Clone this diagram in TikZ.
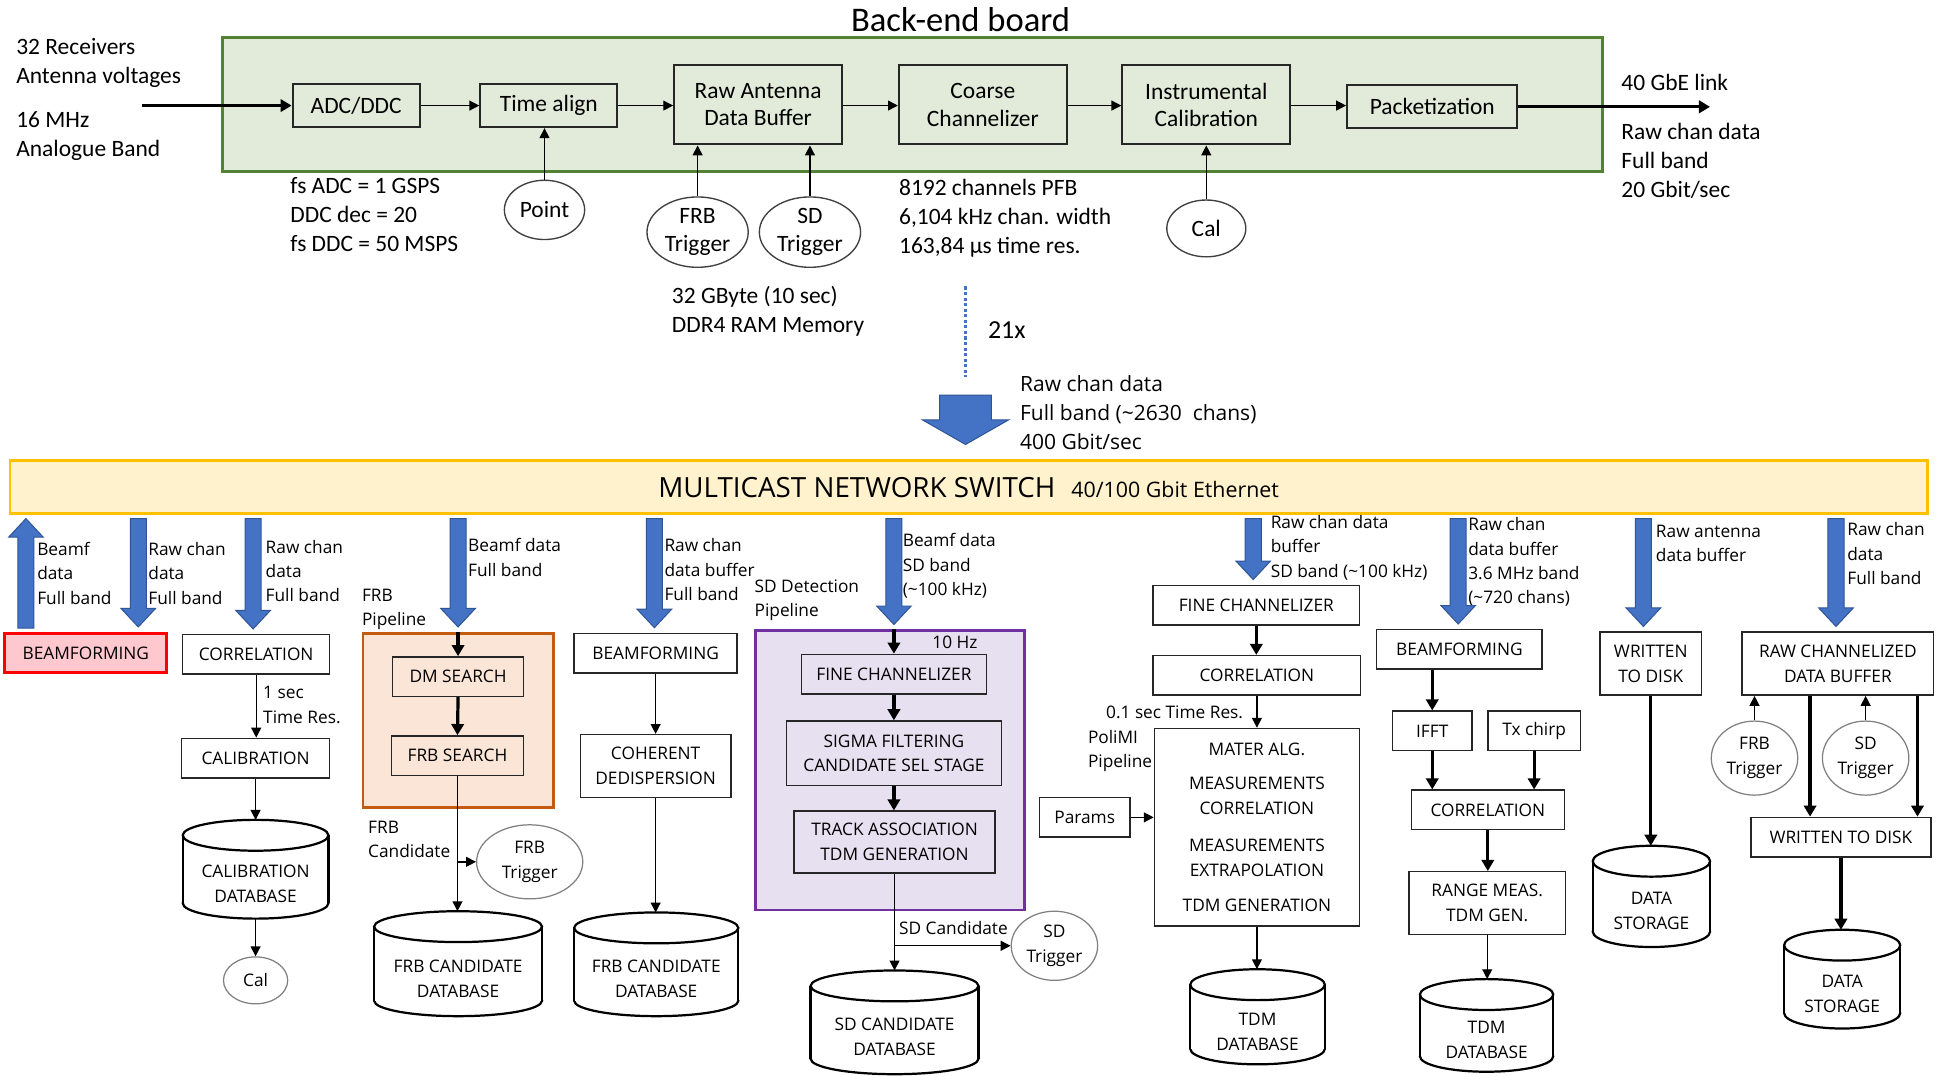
\documentclass[tikz,border=0pt]{standalone}
\usepackage{fontspec}
\setmainfont{Carlito}
\newfontfamily\osans{Open Sans}
\usetikzlibrary{arrows.meta,shapes.geometric,calc}

\definecolor{bgreen}{HTML}{E2EBDA}
\definecolor{bgreenline}{HTML}{548235}
\definecolor{swfill}{HTML}{FFF2CC}
\definecolor{swline}{HTML}{FFC000}
\definecolor{bluefill}{HTML}{4472C4}
\definecolor{blueline}{HTML}{2F5597}
\definecolor{redfill}{HTML}{FFC7CE}
\definecolor{redline}{HTML}{FF0000}
\definecolor{orfill}{HTML}{FBE5D6}
\definecolor{orline}{HTML}{C55A11}
\definecolor{pufill}{HTML}{E7E0F1}
\definecolor{puline}{HTML}{7030A0}

\newcommand\fsz[2]{\fontsize{#1}{#2}\selectfont}

% database cylinder: name, centre x, top y, bottom y, half width, text
\newcommand\dbase[6]{%
  \node[minimum width={2*#5}, minimum height={#4-#3}, inner sep=0pt, outer sep=0pt] (#1) at (#2,{(#3+#4)/2}) {};
  \draw[dbline, fill=white] ([yshift=12.5pt]#1.south) ellipse [x radius=#5pt, y radius=12.5pt];
  \fill[white] ([xshift=-#5pt,yshift=12.5pt]#1.south) rectangle ([xshift=#5pt,yshift=-12.5pt]#1.north);
  \draw[dbline] ([xshift=-#5pt,yshift=12.5pt]#1.south) -- ([xshift=-#5pt,yshift=-12.5pt]#1.north);
  \draw[dbline] ([xshift=#5pt,yshift=12.5pt]#1.south) -- ([xshift=#5pt,yshift=-12.5pt]#1.north);
  \draw[dbline, fill=white] ([yshift=-12.5pt]#1.north) ellipse [x radius=#5pt, y radius=12.5pt];
  \node[dbtext] at ([yshift=-12pt]#1.center) {#6};
}

% block arrows between the switch and a target point
\newcommand\blkdown[1]{\draw[blockarrow] let \p1=(#1), \p2=(sw.south) in
  (\x1-6.5pt,\y2-3pt) -- (\x1+6.5pt,\y2-3pt) -- (\x1+6.5pt,\y1+19pt) -- (\x1+14pt,\y1+19pt)
  -- (\x1,\y1+4pt) -- (\x1-14pt,\y1+19pt) -- (\x1-6.5pt,\y1+19pt) -- cycle;}
\newcommand\blkup[1]{\draw[blockarrow] let \p1=(#1), \p2=(sw.south) in
  (\x1-6.5pt,\y1+3pt) -- (\x1+6.5pt,\y1+3pt) -- (\x1+6.5pt,\y2-18pt) -- (\x1+14pt,\y2-18pt)
  -- (\x1,\y2-3pt) -- (\x1-14pt,\y2-18pt) -- (\x1-6.5pt,\y2-18pt) -- cycle;}

\begin{document}
\begin{tikzpicture}[x=1pt,y=-1pt,
  topbox/.style={draw=black!85, line width=1.6pt, fill=bgreen, font=\fsz{19}{22}, align=center, inner sep=0pt},
  box/.style={draw=black!85, line width=1.2pt, fill=white, font=\osans\fsz{14}{20}, align=center, inner sep=0pt},
  bell/.style={ellipse, draw=black!50, line width=1pt, fill=white, font=\osans\fsz{14}{20}, align=center, inner sep=0pt},
  tell/.style={ellipse, draw=black!75, line width=1.1pt, fill=white, font=\fsz{19}{23}, align=center, inner sep=0pt},
  lbl/.style={font=\fsz{19}{23.5}, align=left, anchor=base west, inner sep=0pt},
  slbl/.style={font=\osans\fsz{14}{19.7}, align=left, anchor=base west, inner sep=0pt},
  dbtext/.style={font=\osans\fsz{14}{20}, align=center, inner sep=0pt},
  tarr/.style={line width=1.1pt, -{Triangle[length=8pt,width=8pt]}},
  barr/.style={line width=2.6pt, -{Triangle[length=9pt,width=10pt]}},
  dbline/.style={line width=1.8pt, draw=black},
  blockarrow/.style={fill=bluefill, draw=blueline, line width=0.8pt},
]
\useasboundingbox (0,0) rectangle (1568,871);
\fill[white] (0,0) rectangle (1568,871);

% multi-line labels are placed by the baseline of their last line

% ---------------- back-end board ----------------
\node[font=\fsz{28}{32}, inner sep=0pt] (title) at (778,16) {Back-end board};
\node[draw=bgreenline, line width=2.5pt, fill=bgreen, minimum width=1118pt, minimum height=109pt, inner sep=0pt] (board) at (739,84.5) {};
\node[lbl] (rcv) at (13,67.5) {32 Receivers\\Antenna voltages};
\node[lbl] (anb) at (13,126.5) {16 MHz\\Analogue Band};
\node[topbox, minimum width=103pt, minimum height=35pt] (adc) at (288.5,85.5) {ADC/DDC};
\node[topbox, minimum width=111pt, minimum height=35pt] (ta) at (444.5,85.5) {Time align};
\node[topbox, minimum width=136pt, minimum height=64pt] (rab) at (614,85) {Raw Antenna\\Data Buffer};
\node[topbox, minimum width=136pt, minimum height=64pt] (cch) at (796,85) {Coarse\\Channelizer};
\node[topbox, minimum width=136pt, minimum height=64pt] (ical) at (977,85) {Instrumental\\Calibration};
\node[topbox, minimum width=138pt, minimum height=35pt] (pack) at (1160,86.5) {Packetization};
\coordinate (in) at (115,85.5);
\coordinate (out) at (1385,86.5);
\node[lbl] (link) at (1313,73) {40 GbE link};
\node[lbl] (rcd) at (1313,160) {Raw chan data\\Full band\\20 Gbit/sec};
\node[lbl] (adcp) at (235,204) {fs ADC = 1 GSPS\\DDC dec = 20\\fs DDC = 50 MSPS};
\node[tell, minimum width=65pt, minimum height=48pt] (pt) at (441,170) {Point};
\node[tell, minimum width=82pt, minimum height=57pt] (frbt) at (565,188) {FRB\\Trigger};
\node[tell, minimum width=82pt, minimum height=57pt] (sdt) at (656,188) {SD\\Trigger};
\node[tell, minimum width=64pt, minimum height=46pt] (cal) at (977,185) {Cal};
\node[lbl] (mem) at (544,269.5) {32 GByte (10 sec)\\DDR4 RAM Memory};
\node[lbl] (pfb) at (728,205) {8192 channels PFB\\6,104 kHz chan. width\\163,84 µs time res.};

\draw[barr] (in) -- (adc.west);
\draw[tarr] (adc.east) -- (ta.west);
\draw[tarr] (ta.east) -- (ta.east -| rab.west);
\draw[tarr] (rab.east |- ta.east) -- (ta.east -| cch.west);
\draw[tarr] (cch.east |- ta.east) -- (ta.east -| ical.west);
\draw[tarr] (ical.east |- ta.east) -- (ta.east -| pack.west);
\draw[barr] (pack.east) -- (out);
\draw[tarr] (pt.north) -- (pt.north |- ta.south);
\draw[tarr] (frbt.north) -- (frbt.north |- rab.south);
\draw[tarr] (sdt.north) -- (sdt.north |- rab.south);
\draw[tarr] (cal.north) -- (cal.north |- ical.south);

% ---------------- aggregation to the switch ----------------
\coordinate (d1) at (782,232);
\coordinate (d2) at (782,305);
\draw[bluefill, line width=2.5pt, dash pattern=on 2.5pt off 2pt] (d1) -- (d2);
\node[font=\fsz{21}{24}, anchor=base west, inner sep=0pt] (x21) at (800,274) {21x};
\draw[blockarrow] (761,320) -- (803,320) -- (803,340) -- (817,340) -- (782,360) -- (747,340) -- (761,340) -- cycle;
\node[anchor=base west, inner sep=0pt, align=left, font=\osans\fsz{17}{23.5}] (agg) at (826,364)
  {Raw chan data\\Full band (\textasciitilde2630\ \ chans)\\400 Gbit/sec};

\node[draw=swline, line width=2pt, fill=swfill, minimum width=1553pt, minimum height=43pt, inner sep=0pt] (sw) at (784.5,394.5)
  {{\osans\fsz{22.5}{26}MULTICAST NETWORK SWITCH}\hspace{13pt}{\osans\fsz{17.3}{20}40/100 Gbit Ethernet}};

% ---------------- column: beamforming / correlation ----------------
\node[box, draw=redline, line width=2.4pt, fill=redfill, minimum width=131pt, minimum height=32pt] (bf1) at (69.5,529) {BEAMFORMING};
\node[slbl] at (30,489.4) {Beamf\\data\\Full band};
\node[slbl] at (120,489.4) {Raw chan\\data\\Full band};
\blkup{[xshift=-48.5pt]bf1.north}
\blkdown{[xshift=42.5pt]bf1.north}

\node[box, minimum width=119pt, minimum height=32pt] (corr1) at (207.5,530) {CORRELATION};
\node[box, minimum width=120pt, minimum height=32pt] (cal1) at (207,614) {CALIBRATION};
\dbase{caldb}{207}{664}{744}{59}{CALIBRATION\\DATABASE}
\node[bell, minimum width=52pt, minimum height=38pt] (cal2) at (207,794) {Cal};
\node[slbl] at (215,487.4) {Raw chan\\data\\Full band};
\node[slbl] at (213,585.7) {1 sec\\Time Res.};
\blkdown{[xshift=-2.5pt]corr1.north}
\draw[tarr] (corr1.south) -- (corr1.south |- cal1.north);
\draw[tarr] (cal1.south) -- (cal1.south |- caldb.north);
\draw[tarr] (caldb.south) -- (cal2.north);

% ---------------- FRB pipeline ----------------
\node[draw=orline, line width=2.4pt, fill=orfill, minimum width=154pt, minimum height=141pt, inner sep=0pt] (frbbox) at (371,583.5) {};
\node[slbl] at (293,506.7) {FRB\\Pipeline};
\node[slbl] at (379,466.7) {Beamf data\\Full band};
\node[box, fill=orfill, minimum width=106pt, minimum height=32pt] (dm) at (371,548) {DM SEARCH};
\node[box, fill=orfill, minimum width=107pt, minimum height=32pt] (frbs) at (370.5,612) {FRB SEARCH};
\dbase{frbdb}{371}{738}{823}{68}{FRB CANDIDATE\\DATABASE}
\node[bell, minimum width=86pt, minimum height=60pt] (frbt2) at (429,698) {FRB\\Trigger};
\node[slbl] at (298,694.7) {FRB\\Candidate};
\blkdown{frbbox.north}
\draw[barr] (frbbox.north) -- (dm.north);
\draw[barr] (dm.south) -- (frbs.north);
\draw[tarr] (frbs.south) -- (frbs.south |- frbdb.north);
\coordinate (fb) at (frbs.south |- frbt2.west);
\draw[tarr] (fb) -- (frbt2.west);

% ---------------- coherent dedispersion ----------------
\node[box, minimum width=132pt, minimum height=32pt] (bf2) at (531,529) {BEAMFORMING};
\node[box, minimum width=122pt, minimum height=51pt] (coh) at (531,620.5) {COHERENT\\DEDISPERSION};
\dbase{frbdb2}{531.5}{739}{823}{66.5}{FRB CANDIDATE\\DATABASE}
\node[slbl] at (538,486.4) {Raw chan\\data buffer\\Full band};
\blkdown{[xshift=-1pt]bf2.north}
\draw[tarr] (bf2.south) -- (bf2.south |- coh.north);
\draw[tarr] (coh.south) -- (coh.south |- frbdb2.north);

% ---------------- SD detection pipeline ----------------
\node[draw=puline, line width=2.4pt, fill=pufill, minimum width=218pt, minimum height=226pt, inner sep=0pt] (sdbox) at (721,624) {};
\node[slbl] at (611,499.7) {SD Detection\\Pipeline};
\node[slbl] at (731,482.4) {Beamf data\\SD band\\(\textasciitilde100 kHz)};
\node[font=\osans\fsz{14}{20}, anchor=base west, inner sep=0pt] (tenhz) at (755,525) {10 Hz};
\node[box, fill=pufill, minimum width=150pt, minimum height=32pt] (fc1) at (724,546) {FINE CHANNELIZER};
\node[box, fill=pufill, minimum width=174pt, minimum height=52pt] (sig) at (724,610) {SIGMA FILTERING\\CANDIDATE SEL STAGE};
\node[box, fill=pufill, minimum width=163pt, minimum height=50pt] (trk) at (724.5,682) {TRACK ASSOCIATION\\TDM GENERATION};
\dbase{sddb}{724.5}{786}{870}{68}{SD CANDIDATE\\DATABASE}
\node[bell, minimum width=70pt, minimum height=56pt] (sdt2) at (854,766) {SD\\Trigger};
\node[slbl] at (728,757) {SD Candidate};
\blkdown{sdbox.north -| fc1.north}
\draw[barr] (sdbox.north -| fc1.north) -- (fc1.north);
\draw[barr] (fc1.south) -- (sig.north);
\draw[barr] (sig.south) -- (sig.south |- trk.north);
\draw[tarr] (trk.south) -- (trk.south |- sddb.north);
\coordinate (sb) at (trk.south |- sdt2.west);
\draw[tarr] (sb) -- (sdt2.west);

% ---------------- PoliMI pipeline ----------------
\node[box, minimum width=167pt, minimum height=32pt] (fc2) at (1017.5,490) {FINE CHANNELIZER};
\node[box, minimum width=168pt, minimum height=32pt] (corr2) at (1018,547) {CORRELATION};
\node[box, minimum width=166pt, minimum height=160pt] (mater) at (1018,670)
  {MATER ALG.\\[8pt]MEASUREMENTS\\CORRELATION\\[10pt]MEASUREMENTS\\EXTRAPOLATION\\[9pt]TDM GENERATION};
\node[box, minimum width=73pt, minimum height=32pt] (params) at (878.5,662) {Params};
\dbase{tdmdb}{1018.5}{785}{862}{54.5}{TDM\\DATABASE}
\node[slbl] at (1029,467.4) {Raw chan data\\buffer\\SD band (\textasciitilde100 kHz)};
\node[font=\osans\fsz{14}{20}, anchor=base east, inner sep=0pt] at (1007,582) {0.1 sec Time Res.};
\node[slbl] at (881,621.7) {PoliMI\\Pipeline};
\blkdown{[xshift=-2.5pt]fc2.north}
\draw[barr] (fc2.south) -- (fc2.south |- corr2.north);
\draw[tarr] (corr2.south) -- (corr2.south |- mater.north);
\draw[tarr] (params.east) -- (params.east -| mater.west);
\draw[tarr] (mater.south) -- (mater.south |- tdmdb.north);

% ---------------- range measurement ----------------
\node[box, minimum width=134pt, minimum height=32pt] (bf3) at (1182,526) {BEAMFORMING};
\node[box, minimum width=64pt, minimum height=32pt] (ifft) at (1160,592) {IFFT};
\node[box, minimum width=75pt, minimum height=32pt] (tx) at (1242.5,592) {Tx chirp};
\node[box, minimum width=124pt, minimum height=32pt] (corr3) at (1205,656) {CORRELATION};
\node[box, minimum width=127pt, minimum height=51pt] (rng) at (1204.5,731.5) {RANGE MEAS.\\TDM GEN.};
\dbase{tdmdb2}{1204}{793}{868}{54}{TDM\\DATABASE}
\node[slbl] at (1189,489.1) {Raw chan\\data buffer\\3.6 MHz band\\(\textasciitilde720 chans)};
\blkdown{[xshift=-1pt]bf3.north}
\draw[barr] (ifft.north |- bf3.south) -- (ifft.north);
\draw[barr] (ifft.south) -- (ifft.south |- corr3.north);
\draw[barr] (tx.south) -- (tx.south |- corr3.north);
\draw[barr] (corr3.south) -- (corr3.south |- rng.north);
\draw[tarr] (rng.south) -- (rng.south |- tdmdb2.north);

% ---------------- raw antenna data to disk ----------------
\node[box, minimum width=82pt, minimum height=51pt] (wtd) at (1337,537.5) {WRITTEN\\TO DISK};
\dbase{ds1}{1337.5}{685}{767}{47.5}{DATA\\STORAGE};
\node[slbl] at (1341,454.7) {Raw antenna\\data buffer};
\blkdown{[xshift=-6pt]wtd.north}
\draw[barr] (wtd.south) -- (wtd.south |- ds1.north);

% ---------------- raw channelized data buffer ----------------
\node[box, minimum width=155pt, minimum height=51pt] (rcb) at (1488.5,537.5) {RAW CHANNELIZED\\DATA BUFFER};
\node[bell, minimum width=70pt, minimum height=60pt] (frbt3) at (1421,614) {FRB\\Trigger};
\node[bell, minimum width=70pt, minimum height=60pt] (sdt3) at (1511,614) {SD\\Trigger};
\node[box, minimum width=146pt, minimum height=32pt] (wtd2) at (1491,678) {WRITTEN TO DISK};
\dbase{ds2}{1492}{753}{833}{47}{DATA\\STORAGE}
\node[slbl] at (1496,473.4) {Raw chan\\data\\Full band};
\blkdown{[xshift=-1.5pt]rcb.north}
\draw[tarr] (frbt3.north) -- (frbt3.north |- rcb.south);
\draw[tarr] (sdt3.north) -- (sdt3.north |- rcb.south);
\coordinate (r1) at ([xshift=-22.5pt]rcb.south);
\coordinate (r2) at ([xshift=64.5pt]rcb.south);
\draw[barr] (r1) -- (r1 |- wtd2.north);
\draw[barr] (r2) -- (r2 |- wtd2.north);
\draw[barr] (wtd2.south) -- (wtd2.south |- ds2.north);

\end{tikzpicture}
\end{document}
